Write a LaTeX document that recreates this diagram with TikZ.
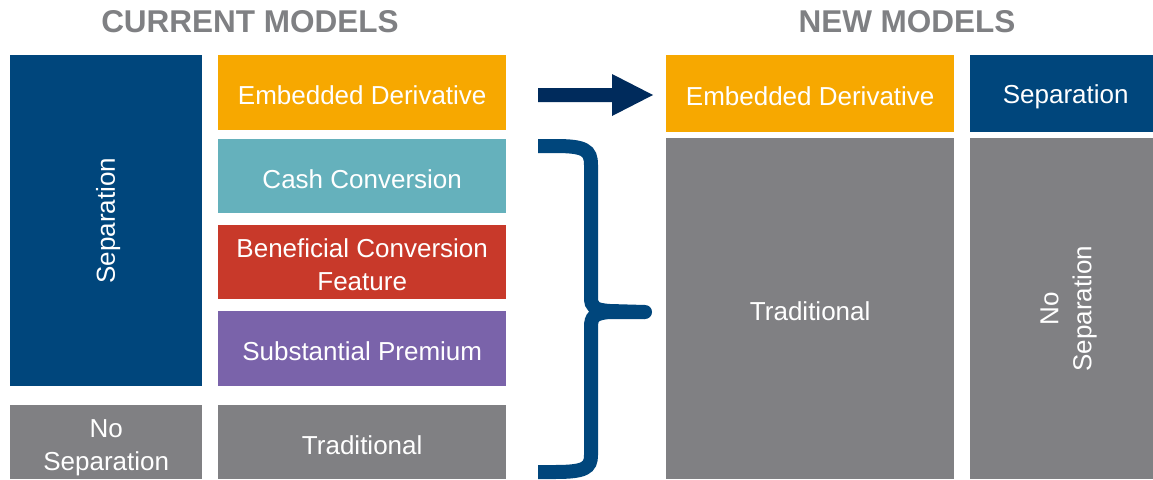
\documentclass[tikz,border=0pt]{standalone}
\usepackage{fontspec}
\setmainfont{Liberation Sans}
\definecolor{navy}{HTML}{00467C}
\definecolor{darknavy}{HTML}{002B5C}
\definecolor{orangeY}{HTML}{F7A800}
\definecolor{tealC}{HTML}{65B1BC}
\definecolor{redC}{HTML}{C8392A}
\definecolor{purpleC}{HTML}{7A63AA}
\definecolor{grayC}{HTML}{808083}
\definecolor{titlegray}{HTML}{7F8083}
\begin{document}
\begin{tikzpicture}[x=1pt,y=-1pt,
  box/.style={draw=none, inner sep=0pt, anchor=north west},
  lbl/.style={text=white, font=\fontsize{26}{33}\selectfont, align=center, inner sep=0pt},
  ttl/.style={text=titlegray, font=\fontsize{31.5}{36}\selectfont\bfseries, inner sep=0pt}]
\useasboundingbox (0,0) rectangle (1153,479);
\fill[white] (0,0) rectangle (1153,479);
% titles
\node[ttl] (tcur) at (250,22) {CURRENT MODELS};
\node[ttl] (tnew) at (907,22) {NEW MODELS};
% current models
\node[box, fill=navy, minimum width=192, minimum height=331] (sep) at (10,55) {};
\node[lbl, rotate=90] (septxt) at ([xshift=2]sep.center) {Separation};
\node[box, fill=grayC, minimum width=192, minimum height=74] (nosep) at (10,405) {};
\node[lbl] (nosept) at ([yshift=-6]nosep.center) {No\\Separation};
\node[box, fill=orangeY, minimum width=288, minimum height=75] (ed) at (218,55) {};
\node[lbl] at ([yshift=-3]ed.center) {Embedded Derivative};
\node[box, fill=tealC, minimum width=288, minimum height=74] (cc) at (218,139) {};
\node[lbl] at ([yshift=-3]cc.center) {Cash Conversion};
\node[box, fill=redC, minimum width=288, minimum height=74] (bcf) at (218,225) {};
\node[lbl] at ([yshift=-3]bcf.center) {Beneficial Conversion\\Feature};
\node[box, fill=purpleC, minimum width=288, minimum height=75] (sp) at (218,311) {};
\node[lbl] at ([yshift=-3]sp.center) {Substantial Premium};
\node[box, fill=grayC, minimum width=288, minimum height=74] (trad) at (218,405) {};
\node[lbl] at ([yshift=-3]trad.center) {Traditional};
% new models
\node[box, fill=orangeY, minimum width=288, minimum height=77] (ned) at (666,55) {};
\node[lbl] at ([yshift=-3]ned.center) {Embedded Derivative};
\node[box, fill=navy, minimum width=183, minimum height=77] (nsep) at (970,55) {};
\node[lbl] at ([xshift=4,yshift=-3]nsep.center) {Separation};
\node[box, fill=grayC, minimum width=288, minimum height=341] (ntrad) at (666,138) {};
\node[lbl] at ([yshift=-3]ntrad.center) {Traditional};
\node[box, fill=grayC, minimum width=183, minimum height=341] (nnosep) at (970,138) {};
\node[lbl, rotate=90] at ([xshift=7]nnosep.center) {No\\Separation};
% arrow
\coordinate (as) at (538,95);
\coordinate (at) at (653,95);
\fill[darknavy] (as) ++(0,-7) -- ++(74,0) -- ++(0,-14) -- (at) -- (612,116) -- (612,102) -- (538,102) -- cycle;
% brace
\coordinate (b1) at (538,146);
\coordinate (bm) at (645,312);
\coordinate (b2) at (538,472);
\draw[navy, line width=14pt] (b1) -- (555,146) .. controls (585,146) and (591,150) .. (591,165) -- (591,297)
  .. controls (591,307) and (594,310) .. (610,311) -- (bm);
\draw[navy, line width=14pt] (b2) -- (555,472) .. controls (585,472) and (591,468) .. (591,455) -- (591,327)
  .. controls (591,317) and (594,313) .. (610,312) -- (bm);
\fill[navy] (bm) circle (7);
\end{tikzpicture}
\end{document}
